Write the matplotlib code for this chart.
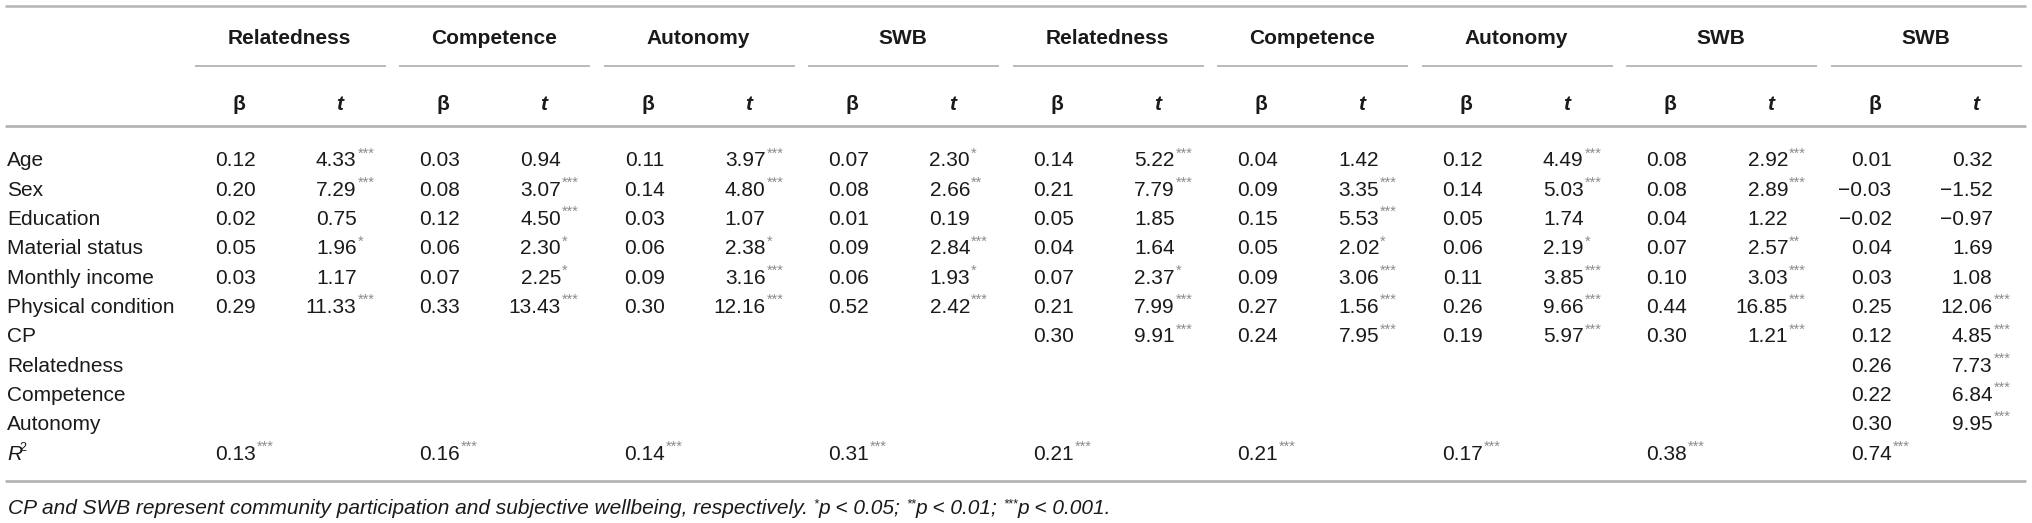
import matplotlib.pyplot as plt

plt.rcParams['font.family'] = ['Liberation Sans', 'DejaVu Sans']

# table content
row_labels = ["Age", "Sex", "Education", "Material status", "Monthly income",
              "Physical condition", "CP", "Relatedness", "Competence", "Autonomy"]
group_titles = ["Relatedness", "Competence", "Autonomy", "SWB",
                "Relatedness", "Competence", "Autonomy", "SWB", "SWB"]

# model 1
rel1_b = [0.12, 0.20, 0.02, 0.05, 0.03, 0.29]
rel1_t = [4.33, 7.29, 0.75, 1.96, 1.17, 11.33]
rel1_s = [3, 3, 0, 1, 0, 3]
com1_b = [0.03, 0.08, 0.12, 0.06, 0.07, 0.33]
com1_t = [0.94, 3.07, 4.50, 2.30, 2.25, 13.43]
com1_s = [0, 3, 3, 1, 1, 3]
aut1_b = [0.11, 0.14, 0.03, 0.06, 0.09, 0.30]
aut1_t = [3.97, 4.80, 1.07, 2.38, 3.16, 12.16]
aut1_s = [3, 3, 0, 1, 3, 3]
swb1_b = [0.07, 0.08, 0.01, 0.09, 0.06, 0.52]
swb1_t = [2.30, 2.66, 0.19, 2.84, 1.93, 2.42]
swb1_s = [1, 2, 0, 3, 1, 3]

# model 2
rel2_b = [0.14, 0.21, 0.05, 0.04, 0.07, 0.21, 0.30]
rel2_t = [5.22, 7.79, 1.85, 1.64, 2.37, 7.99, 9.91]
rel2_s = [3, 3, 0, 0, 1, 3, 3]
com2_b = [0.04, 0.09, 0.15, 0.05, 0.09, 0.27, 0.24]
com2_t = [1.42, 3.35, 5.53, 2.02, 3.06, 1.56, 7.95]
com2_s = [0, 3, 3, 1, 3, 3, 3]
aut2_b = [0.12, 0.14, 0.05, 0.06, 0.11, 0.26, 0.19]
aut2_t = [4.49, 5.03, 1.74, 2.19, 3.85, 9.66, 5.97]
aut2_s = [3, 3, 0, 1, 3, 3, 3]
swb2_b = [0.08, 0.08, 0.04, 0.07, 0.10, 0.44, 0.30]
swb2_t = [2.92, 2.89, 1.22, 2.57, 3.03, 16.85, 1.21]
swb2_s = [3, 3, 0, 2, 3, 3, 3]

# model 3
swb3_b = [0.01, -0.03, -0.02, 0.04, 0.03, 0.25, 0.12, 0.26, 0.22, 0.30]
swb3_t = [0.32, -1.52, -0.97, 1.69, 1.08, 12.06, 4.85, 7.73, 6.84, 9.95]
swb3_s = [0, 0, 0, 0, 0, 3, 3, 3, 3, 3]

r2_vals = [0.13, 0.16, 0.14, 0.31, 0.21, 0.21, 0.17, 0.38, 0.74]
r2_sig = [3, 3, 3, 3, 3, 3, 3, 3, 3]

groups = [(rel1_b, rel1_t, rel1_s), (com1_b, com1_t, com1_s),
          (aut1_b, aut1_t, aut1_s), (swb1_b, swb1_t, swb1_s),
          (rel2_b, rel2_t, rel2_s), (com2_b, com2_t, com2_s),
          (aut2_b, aut2_t, aut2_s), (swb2_b, swb2_t, swb2_s),
          (swb3_b, swb3_t, swb3_s)]

footnote = "CP and SWB represent community participation and subjective wellbeing, respectively. "

W, H = 2032, 523
fig = plt.figure(figsize=(W / 100, H / 100), dpi=100)
ax = fig.add_axes([0, 0, 1, 1])
ax.set_xlim(0, W)
ax.set_ylim(H, 0)
ax.axis('off')

ink = '#1a1a1a'
star_c = '#8c8c8c'
rule_c = '#b4b4b4'
fs = 15
cap = 7.5  # half cap height in px, row centre -> baseline


def fmt(v):
    return f"{v:.2f}".replace("-", "\u2212")


def put_num(x, y, v, nstar):
    ax.text(x, y + cap, fmt(v), ha='right', va='baseline', fontsize=fs, color=ink)
    if nstar:
        ax.text(x + 1, y - 1.5, "*" * nstar, ha='left', va='baseline',
                fontsize=10.5, color=star_c)


# rules
ax.plot([5, 2026], [6, 6], color=rule_c, lw=1.8, solid_capstyle='butt')
ax.plot([5, 2026], [126, 126], color=rule_c, lw=2.0, solid_capstyle='butt')
ax.plot([5, 2026], [481, 481], color=rule_c, lw=2.0, solid_capstyle='butt')

row_y = [159 + 29.3 * i for i in range(len(row_labels))]
r2_y = 452

for i, title in enumerate(group_titles):
    x0 = 194.6 + 204.5 * i
    ax.plot([x0, x0 + 191], [66, 66], color=rule_c, lw=1.3, solid_capstyle='butt')
    ax.text(x0 + 95, 37 + cap, title, ha='center', va='baseline',
            fontsize=15, fontweight='bold', color=ink)
    ax.text(x0 + 44, 102 + cap, "\u03b2", ha='center', va='baseline',
            fontsize=15, fontweight='bold', color=ink)
    ax.text(x0 + 145, 102 + cap, "t", ha='center', va='baseline',
            fontsize=15, fontweight='bold', fontstyle='italic', color=ink)
    b, t, s = groups[i]
    for r in range(len(b)):
        put_num(x0 + 61, row_y[r], b[r], 0)
        put_num(x0 + 162, row_y[r], t[r], s[r])
    put_num(x0 + 61, r2_y, r2_vals[i], r2_sig[i])

for r, lab in enumerate(row_labels):
    ax.text(7, row_y[r] + cap, lab, ha='left', va='baseline', fontsize=fs, color=ink)
ax.text(7, r2_y + cap, "R", ha='left', va='baseline', fontsize=fs,
        fontstyle='italic', color=ink)
ax.text(19, r2_y - 1, "2", ha='left', va='baseline', fontsize=9, color=ink)

# footnote with superscript stars
fy = 507 + 6.5
fx = 8
fn_fs = 15
t0 = ax.text(fx, fy, footnote, ha='left', va='baseline', fontsize=fn_fs,
             fontstyle='italic', color=ink)
parts = [("*", True), ("p < 0.05; ", False), ("**", True), ("p < 0.01; ", False),
         ("***", True), ("p < 0.001.", False)]
fig.canvas.draw()
renderer = fig.canvas.get_renderer()
inv = ax.transData.inverted()
prev = t0
for txt, sup in parts:
    bb = prev.get_window_extent(renderer=renderer)
    xn = inv.transform((bb.x1, 0))[0]
    if sup:
        prev = ax.text(xn, fy - 6, txt, ha='left', va='baseline', fontsize=9,
                       fontstyle='italic', color=ink)
    else:
        prev = ax.text(xn, fy, txt, ha='left', va='baseline', fontsize=fn_fs,
                       fontstyle='italic', color=ink)

fig.savefig('out.png', dpi=100)
